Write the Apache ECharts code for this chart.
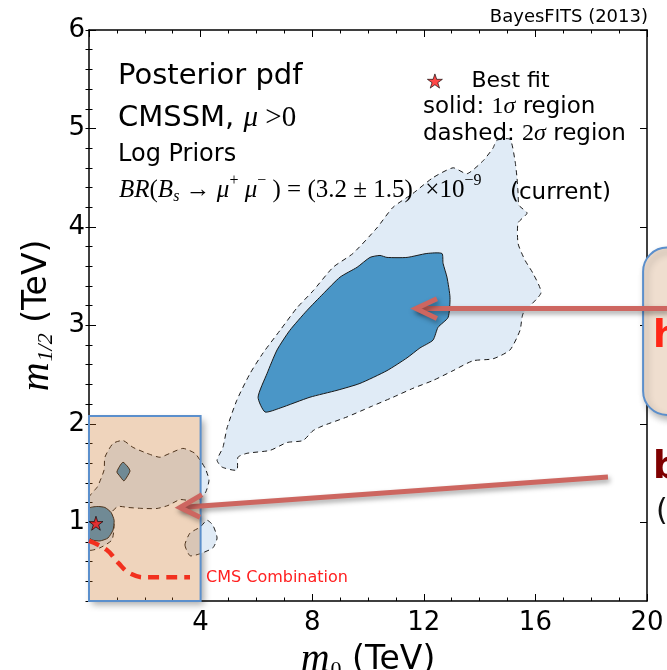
<!DOCTYPE html>
<html>
<head>
<meta charset="utf-8">
<script src="https://cdn.jsdelivr.net/npm/echarts@6.0.0/dist/echarts.min.js"></script>
<style>
  html, body { margin: 0; padding: 0; background: #ffffff; }
  #chart { width: 667px; height: 670px; }
</style>
</head>
<body>
<div id="chart"></div>
<script>
// ---- axes (TeV) ----
const xRange = [0, 20];
const yRange = [0.2, 6];
const xTickLabels = [4, 8, 12, 16, 20];
const yTickLabels = [1, 2, 3, 4, 5, 6];

// ---- posterior credible regions, [m0, m1/2] in TeV ----
// 2 sigma, high-mass island
const region2SigmaHigh = [
  [14.62, 4.88], [15.09, 4.89], [15.27, 4.67], [15.34, 4.50], [15.38, 4.34], [15.41, 4.22],
  [15.70, 4.14], [15.38, 4.04], [15.38, 3.83], [15.63, 3.66], [15.91, 3.53], [16.20, 3.33],
  [15.56, 3.12], [15.45, 2.95], [15.09, 2.75], [14.48, 2.66], [13.76, 2.64], [13.05, 2.54],
  [12.33, 2.44], [11.61, 2.36], [10.90, 2.27], [10.07, 2.17], [9.25, 2.07], [8.39, 1.98],
  [8.03, 1.93], [7.67, 1.83], [7.10, 1.81], [6.49, 1.73], [5.66, 1.70], [5.34, 1.66],
  [5.30, 1.53], [4.77, 1.56], [4.59, 1.63], [4.80, 1.76], [4.95, 1.96], [5.30, 2.24],
  [5.77, 2.51], [6.24, 2.72], [6.85, 2.95], [7.46, 3.18], [8.03, 3.35], [8.75, 3.59],
  [9.46, 3.73], [10.32, 3.99], [10.90, 4.20], [11.61, 4.34], [12.33, 4.50], [13.05, 4.60],
  [13.55, 4.54], [14.12, 4.67], [14.48, 4.80]
];
// 1 sigma, high-mass island
const region1SigmaHigh = [
  [12.65, 3.73], [12.11, 3.73], [11.40, 3.69], [10.68, 3.69], [10.43, 3.71], [10.07, 3.69],
  [9.61, 3.59], [9.00, 3.49], [8.39, 3.32], [7.81, 3.15], [7.20, 2.95], [6.74, 2.75],
  [6.38, 2.51], [6.06, 2.27], [6.31, 2.12], [6.85, 2.16], [7.92, 2.27], [8.89, 2.34],
  [9.71, 2.41], [10.68, 2.54], [11.40, 2.67], [11.86, 2.77], [12.33, 2.85], [12.51, 2.98],
  [12.87, 3.08], [12.94, 3.28], [12.83, 3.49], [12.69, 3.63]
];
// 2 sigma, low-mass pieces
const region2SigmaLowUpper = [
  [0, 1.25], [0.30, 1.36], [0.54, 1.53], [0.57, 1.66], [0.86, 1.80], [1.22, 1.83],
  [1.58, 1.76], [2.08, 1.70], [2.54, 1.66], [2.90, 1.70], [3.37, 1.75], [3.80, 1.70],
  [3.98, 1.63], [4.16, 1.55], [4.30, 1.43], [4.19, 1.31], [3.98, 1.24], [3.62, 1.22],
  [3.26, 1.23], [2.83, 1.17], [2.44, 1.14], [1.94, 1.14], [1.40, 1.15], [1.04, 1.16],
  [0.82, 1.10], [0.90, 0.97], [0.82, 0.82], [0.39, 0.74], [0, 0.72]
];
const region2SigmaLowLower = [
  [3.44, 0.77], [3.62, 0.66], [3.98, 0.68], [4.44, 0.74], [4.59, 0.84], [4.44, 0.97],
  [4.23, 1.02], [3.98, 0.95], [3.62, 0.89]
];
// 1 sigma, low-mass pieces
const region1SigmaLowCore = [
  [0, 1.14], [0.29, 1.16], [0.57, 1.15], [0.79, 1.10], [0.90, 1.02], [0.86, 0.92],
  [0.68, 0.84], [0.39, 0.81], [0.11, 0.82], [0, 0.85]
];
const region1SigmaLowSpot = [
  [1.22, 1.61], [1.40, 1.56], [1.47, 1.52], [1.36, 1.46], [1.25, 1.42], [1.10, 1.47],
  [1.00, 1.51], [1.10, 1.57]
];

// best-fit point and CMS exclusion curve
const bestFit = [[0.25, 0.99]];
const cmsCombination = [[0, 0.81], [0.63, 0.72], [1.04, 0.59], [1.47, 0.48], [2.08, 0.44], [3.62, 0.44]];

// annotation boxes: [corner, opposite corner]
const lowMassBox = [[0, 2.08], [4, 0.2]];
const sideBox = [[19.86, 3.79], [22.5, 2.09]];

// annotation arrows: shaft start -> tip, chevron arms
const arrowHighShaft = [[20.75, 3.17], [11.72, 3.17]];
const arrowHighHead = [[12.47, 3.27], [11.72, 3.17], [12.47, 3.07]];
const arrowLowShaft = [[18.60, 1.46], [3.26, 1.15]];
const arrowLowHead = [[4.05, 1.28], [3.26, 1.15], [3.98, 1.05]];

const SANS = '"DejaVu Sans", sans-serif';
const SERIF = '"Liberation Serif", "DejaVu Serif", serif';
const STAR = 'path://M50,0 L61.8,35.4 L98.9,35.4 L68.8,57.3 L80.3,92.7 L50,70.8 L19.7,92.7 L31.2,57.3 L1.1,35.4 L38.2,35.4 Z';

const LIGHT = '#E0EBF6';
const DARK = '#4A96C7';
const EDGE = '#1a1a1a';
const ARROW = '#CD6660';

function regionSeries(name, pts, fill, dash, z) {
  return {
    type: 'custom', name: name, z: z, silent: true, clip: true,
    data: [[pts[0][0], pts[0][1]]],
    renderItem: function (params, api) {
      return {
        type: 'polygon',
        shape: { points: pts.map(function (p) { return api.coord(p); }), smooth: 0.2 },
        style: { fill: fill, stroke: EDGE, lineWidth: 1, lineDash: dash }
      };
    }
  };
}

function boxSeries(name, corners, style, r, z) {
  return {
    type: 'custom', name: name, z: z, silent: true, clip: false,
    data: [[corners[0][0], corners[0][1]]],
    renderItem: function (params, api) {
      const a = api.coord(corners[0]);
      const b = api.coord(corners[1]);
      return {
        type: 'rect',
        shape: { x: Math.min(a[0], b[0]), y: Math.min(a[1], b[1]),
                 width: Math.abs(b[0] - a[0]), height: Math.abs(b[1] - a[1]), r: r },
        style: style
      };
    }
  };
}

function arrowSeries(name, shaft, head, z) {
  const st = {
    fill: null, stroke: ARROW, lineWidth: 5, lineJoin: 'miter',
    shadowBlur: 5, shadowColor: 'rgba(0,0,0,0.35)', shadowOffsetX: 2, shadowOffsetY: 3
  };
  return {
    type: 'custom', name: name, z: z, silent: true, clip: false,
    data: [[shaft[1][0], shaft[1][1]]],
    renderItem: function (params, api) {
      return {
        type: 'group',
        children: [
          { type: 'polyline', shape: { points: shaft.map(function (p) { return api.coord(p); }) }, style: st },
          { type: 'polyline', shape: { points: head.map(function (p) { return api.coord(p); }) }, style: st }
        ]
      };
    }
  };
}

function xAxisCfg(pos, withLabels) {
  const ax = {
    type: 'value', min: xRange[0], max: xRange[1], interval: 4, position: pos, z: 3,
    axisLine: { show: true, onZero: false, lineStyle: { color: '#000', width: 1.5 } },
    axisTick: { show: true, inside: true, length: 7, lineStyle: { color: '#000', width: 1 } },
    minorTick: { show: true, splitNumber: 4, length: 3.5, lineStyle: { color: '#000', width: 1 } },
    splitLine: { show: false }, minorSplitLine: { show: false },
    axisLabel: { show: false }
  };
  if (withLabels) {
    ax.axisLabel = { show: true, customValues: xTickLabels, fontSize: 26, color: '#000', fontFamily: SANS, margin: 9 };
    ax.name = '{i|m}{s|0}{t| (TeV)}';
    ax.nameLocation = 'middle';
    ax.nameGap = 33;
    ax.nameTextStyle = {
      rich: {
        i: { fontFamily: SERIF, fontStyle: 'italic', fontSize: 40, color: '#000' },
        s: { fontFamily: SERIF, fontSize: 22, color: '#000', padding: [18, 0, 0, 1] },
        t: { fontFamily: SANS, fontSize: 33, color: '#000' }
      }
    };
  }
  return ax;
}

function yMajor(pos, withLabels) {
  const ax = {
    type: 'value', min: yRange[0], max: yRange[1], position: pos, z: 3,
    axisLine: { show: true, onZero: false, lineStyle: { color: '#000', width: 1.5 } },
    axisTick: { show: true, inside: true, length: 7, customValues: yTickLabels, lineStyle: { color: '#000', width: 1 } },
    splitLine: { show: false },
    axisLabel: { show: false }
  };
  if (withLabels) {
    ax.axisLabel = { show: true, customValues: yTickLabels, fontSize: 26, color: '#000', fontFamily: SANS, margin: 4 };
    ax.name = '{i|m}{s|1/2}{t| (TeV)}';
    ax.nameLocation = 'middle';
    ax.nameGap = 30;
    ax.nameRotate = 90;
    ax.nameTextStyle = {
      rich: {
        i: { fontFamily: SERIF, fontStyle: 'italic', fontSize: 40, color: '#000' },
        s: { fontFamily: SERIF, fontStyle: 'italic', fontSize: 22, color: '#000', padding: [18, 0, 0, 1] },
        t: { fontFamily: SANS, fontSize: 33, color: '#000' }
      }
    };
  }
  return ax;
}

function yMinor(pos) {
  return {
    type: 'value', min: yRange[0], max: yRange[1], interval: 0.2, position: pos, z: 3,
    axisLine: { show: false },
    axisTick: { show: true, inside: true, length: 3.5, lineStyle: { color: '#000', width: 1 } },
    axisLabel: { show: false }, splitLine: { show: false }
  };
}

const mathRich = {
  s: { fontFamily: SANS, fontSize: 29, color: '#000' },
  m: { fontFamily: SERIF, fontStyle: 'italic', fontSize: 29, color: '#000' },
  r: { fontFamily: SERIF, fontSize: 29, color: '#000' },
  i: { fontFamily: SERIF, fontStyle: 'italic', fontSize: 25, color: '#000' },
  u: { fontFamily: SERIF, fontSize: 25, color: '#000' },
  sub: { fontFamily: SERIF, fontStyle: 'italic', fontSize: 16, color: '#000', padding: [13, 0, 0, 0] },
  sup: { fontFamily: SERIF, fontSize: 16, color: '#000', padding: [0, 0, 18, 0] }
};
const legendRich = {
  s: { fontFamily: SANS, fontSize: 23, color: '#000' },
  r: { fontFamily: SERIF, fontSize: 24, color: '#000' },
  m: { fontFamily: SERIF, fontStyle: 'italic', fontSize: 24, color: '#000' }
};

const option = {
  animation: false,
  backgroundColor: '#ffffff',
  grid: { left: 89, right: 20, top: 30, bottom: 69, containLabel: false, outerBoundsMode: 'none' },
  xAxis: [xAxisCfg('bottom', true), xAxisCfg('top', false)],
  yAxis: [yMajor('left', true), yMinor('left'), yMajor('right', false), yMinor('right')],
  legend: {
    data: [{ name: 'Best fit', icon: STAR,
      itemStyle: { color: '#FF1A1A', borderColor: '#000', borderWidth: 0.8 } }],
    left: 422, top: 65, itemWidth: 15, itemHeight: 15, selectedMode: false,
    textStyle: { fontFamily: SANS, fontSize: 22, color: '#000', padding: [0, 0, 0, 24] }
  },
  series: [
    boxSeries('lowBoxShadow', lowMassBox,
      { fill: '#ffffff', shadowBlur: 7, shadowColor: 'rgba(0,0,0,0.35)', shadowOffsetX: 3, shadowOffsetY: 4 }, 0, 1),
    regionSeries('2sigma high', region2SigmaHigh, LIGHT, [5, 4], 2),
    regionSeries('1sigma high', region1SigmaHigh, DARK, null, 2),
    regionSeries('2sigma low upper', region2SigmaLowUpper, LIGHT, [5, 4], 2),
    regionSeries('2sigma low lower', region2SigmaLowLower, LIGHT, [5, 4], 2),
    regionSeries('1sigma low core', region1SigmaLowCore, DARK, null, 2),
    regionSeries('1sigma low spot', region1SigmaLowSpot, DARK, null, 2),
    boxSeries('lowBox', lowMassBox,
      { fill: 'rgba(202,112,32,0.3)', stroke: '#5B8FCC', lineWidth: 2 }, 0, 4),
    {
      type: 'line', name: 'CMS Combination', z: 5, silent: true,
      data: cmsCombination, smooth: 0.45, symbol: 'none',
      lineStyle: { color: '#F2301E', width: 4.5, type: [11, 7] },
      endLabel: { show: true, formatter: 'CMS Combination', distance: 16,
        color: '#FF2020', fontFamily: SANS, fontSize: 16 }
    },
    {
      type: 'scatter', name: 'Best fit', z: 6, silent: true,
      data: bestFit, symbol: STAR, symbolSize: 14,
      itemStyle: { color: '#FF1A1A', borderColor: '#000', borderWidth: 0.8 }
    },
    boxSeries('sideBox', sideBox,
      { fill: '#EFDECF', stroke: '#5B8FCC', lineWidth: 2,
        shadowBlur: 7, shadowColor: 'rgba(0,0,0,0.3)', shadowOffsetX: 3, shadowOffsetY: 4 }, 24, 6),
    arrowSeries('arrowHigh', arrowHighShaft, arrowHighHead, 7),
    arrowSeries('arrowLow', arrowLowShaft, arrowLowHead, 7)
  ],
  graphic: [
    { type: 'text', z: 10, right: 19, top: 8,
      style: { text: 'BayesFITS (2013)', fontFamily: SANS, fontSize: 18, fill: '#000' } },
    { type: 'text', z: 10, x: 118, y: 76,
      style: { text: 'Posterior pdf', fontFamily: SANS, fontSize: 29, fill: '#000', verticalAlign: 'middle' } },
    { type: 'text', z: 10, x: 118, y: 118,
      style: { text: '{s|CMSSM, }{m|μ}{r| >0}', rich: mathRich, verticalAlign: 'middle' } },
    { type: 'text', z: 10, x: 118, y: 155,
      style: { text: 'Log Priors', fontFamily: SANS, fontSize: 24, fill: '#000', verticalAlign: 'middle' } },
    { type: 'text', z: 10, x: 119, y: 190,
      style: { text: '{i|BR}{u|(}{i|B}{sub|s}{u| → }{i|μ}{sup|+}{i| μ}{sup|−}{u| ) = (3.2 ± 1.5)  ×10}{sup|−9}',
        rich: mathRich, verticalAlign: 'middle' } },
    { type: 'text', z: 10, x: 510, y: 193,
      style: { text: '(current)', fontFamily: SANS, fontSize: 23, fill: '#000', verticalAlign: 'middle' } },
    { type: 'text', z: 10, x: 423, y: 107,
      style: { text: '{s|solid: }{r|1}{m|σ}{s| region}', rich: legendRich, verticalAlign: 'middle' } },
    { type: 'text', z: 10, x: 423, y: 134,
      style: { text: '{s|dashed: }{r|2}{m|σ}{s| region}', rich: legendRich, verticalAlign: 'middle' } },
    { type: 'text', z: 10, x: 653, y: 337,
      style: { text: 'h', fontFamily: SANS, fontWeight: 'bold', fontSize: 37, fill: '#FF2616', verticalAlign: 'middle' } },
    { type: 'text', z: 10, x: 653, y: 468,
      style: { text: 'b', fontFamily: SANS, fontWeight: 'bold', fontSize: 37, fill: '#7F0000', verticalAlign: 'middle' } },
    { type: 'text', z: 10, x: 656, y: 512,
      style: { text: '(', fontFamily: SANS, fontSize: 30, fill: '#111', verticalAlign: 'middle' } }
  ]
};

const chart = echarts.init(document.getElementById('chart'), null, { renderer: 'canvas' });
chart.setOption(option);
</script>
</body>
</html>
